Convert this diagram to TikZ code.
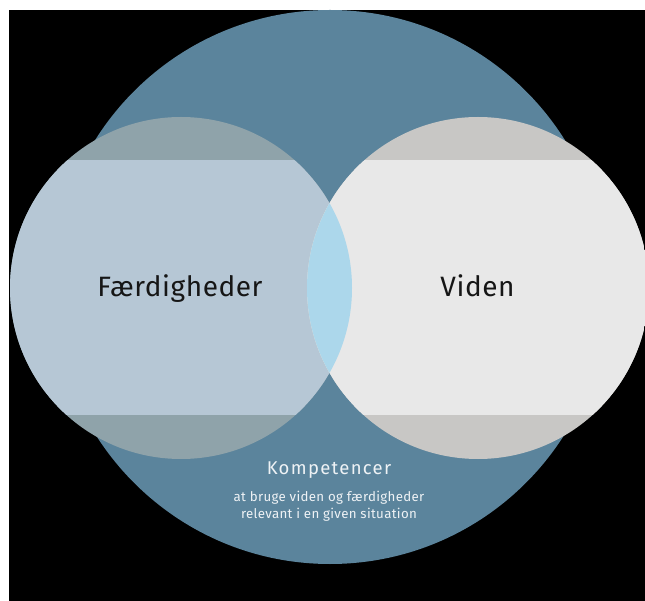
\documentclass[tikz,border=0pt]{standalone}
\usepackage{fontspec}
\setmainfont{Fira Sans}
\newfontfamily\bigfont[LetterSpace=2]{Fira Sans}
\newfontfamily\titlefont[LetterSpace=7]{Fira Sans}
\newfontfamily\subfont[LetterSpace=2.4]{Fira Sans}
\definecolor{bigblue}{HTML}{5B849C}
\definecolor{leftmain}{HTML}{B6C7D5}
\definecolor{leftcap}{HTML}{8FA3AA}
\definecolor{rightmain}{HTML}{E8E8E8}
\definecolor{rightcap}{HTML}{C8C7C5}
\definecolor{lens}{HTML}{ACD7EB}
\definecolor{darktext}{HTML}{161616}
\definecolor{lighttext}{HTML}{EEF2F5}
\begin{document}
\begin{tikzpicture}[x=1pt,y=-1pt,
  bigtext/.style={font=\bigfont\fontsize{28}{32}\selectfont, text=darktext, inner sep=0pt, anchor=base},
  titletext/.style={font=\titlefont\fontsize{18.5}{22}\selectfont, text=lighttext, inner sep=0pt, anchor=base},
  subtext/.style={font=\subfont\fontsize{13.3}{16}\selectfont, text=lighttext, inner sep=0pt, anchor=base}]
\useasboundingbox (0,0) rectangle (645,601);
\fill[white] (0,0) rectangle (645,601);
\fill[black] (9,10) rectangle (645,601);
\begin{scope}
  \clip (9,10) rectangle (645,601);
  % big circle
  \fill[bigblue] (330,287) circle[radius=277];
  % left circle
  \begin{scope}
    \clip (181,288) circle[radius=171];
    \fill[leftcap] (0,0) rectangle (645,601);
    \fill[leftmain] (0,160) rectangle (645,415);
  \end{scope}
  % right circle
  \begin{scope}
    \clip (478,288) circle[radius=171];
    \fill[rightcap] (0,0) rectangle (660,601);
    \fill[rightmain] (0,160) rectangle (660,415);
  \end{scope}
  % lens
  \begin{scope}
    \clip (181,288) circle[radius=171];
    \clip (478,288) circle[radius=171];
    \fill[lens] (0,160) rectangle (645,415);
  \end{scope}
\end{scope}
\node[bigtext] (skills) at (180,297) {Færdigheder};
\node[bigtext] (knowledge) at (477.5,297) {Viden};
\node[titletext] (comp) at (329,474.5) {Kompetencer};
\node[subtext] (sub1) at (329,501.5) {at bruge viden og færdigheder};
\node[subtext] (sub2) at (329,518) {relevant i en given situation};
\end{tikzpicture}
\end{document}
